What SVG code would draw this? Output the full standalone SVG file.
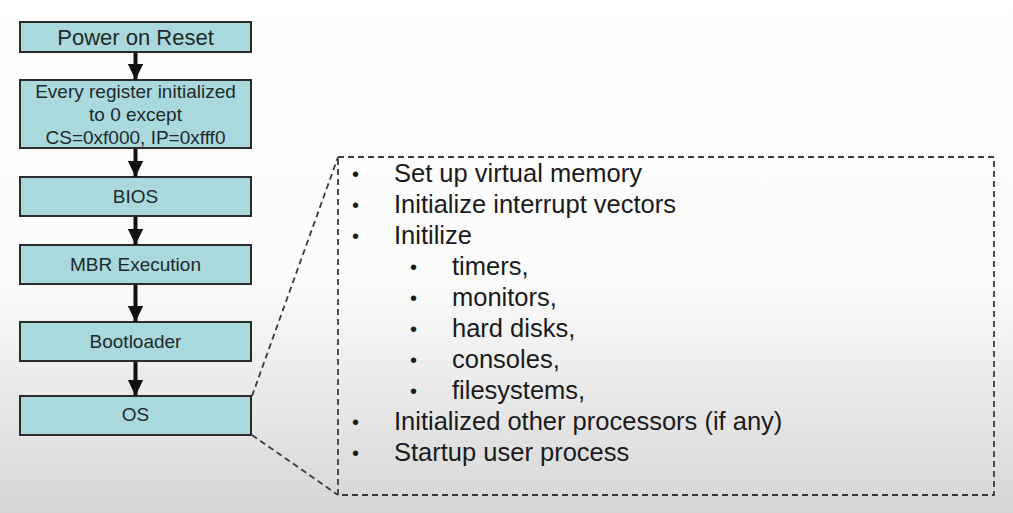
<svg xmlns="http://www.w3.org/2000/svg" width="1013" height="513" viewBox="0 0 1013 513">
<defs>
<linearGradient id="bg" x1="0" y1="0" x2="0" y2="1">
<stop offset="0" stop-color="#ffffff"/>
<stop offset="0.55" stop-color="#fbfbfb"/>
<stop offset="1" stop-color="#d6d6d6"/>
</linearGradient>
<marker id="ah" markerWidth="4" markerHeight="3.8" refX="4" refY="1.9" orient="auto" markerUnits="strokeWidth">
<path d="M0,0 L4,1.9 L0,3.8 Z" fill="#111"/>
</marker>
</defs>
<style>
.box{fill:#a9d9dc;stroke:#2b2b2b;stroke-width:2}
.bt{font-family:"Liberation Sans",Arial,sans-serif;fill:#1e2a2a;text-anchor:middle}
.arr{stroke:#111;stroke-width:4;fill:none}
.dash{stroke:#3a3a3a;stroke-width:1.8;fill:none;stroke-dasharray:6,4}
.lt{font-family:"Liberation Sans",Arial,sans-serif;font-size:25.5px;fill:#1a1a1a}
.bl{font-family:"Liberation Sans",Arial,sans-serif;font-size:20px;fill:#1a1a1a}
</style>
<rect width="1013" height="513" fill="url(#bg)"/>
<g id="n-power"><rect class="box" x="20" y="22" width="231" height="30"/><text class="bt" x="135.5" y="45" font-size="22">Power on Reset</text></g>
<g id="n-register"><rect class="box" x="20" y="80" width="231" height="68"/>
<text class="bt" x="135.5" y="98" font-size="19">Every register initialized</text>
<text class="bt" x="135.5" y="121" font-size="19">to 0 except</text>
<text class="bt" x="135.5" y="144" font-size="19">CS=0xf000, IP=0xfff0</text></g>
<g id="n-bios"><rect class="box" x="20" y="177" width="231" height="39"/><text class="bt" x="135.5" y="203" font-size="19">BIOS</text></g>
<g id="n-mbr"><rect class="box" x="20" y="245" width="231" height="39"/><text class="bt" x="135.5" y="271" font-size="19">MBR Execution</text></g>
<g id="n-boot"><rect class="box" x="20" y="322" width="231" height="39"/><text class="bt" x="135.5" y="348" font-size="19">Bootloader</text></g>
<g id="n-os"><rect class="box" x="20" y="396" width="231" height="39"/><text class="bt" x="135.5" y="421" font-size="19">OS</text></g>
<g id="connectors">
<line class="arr" x1="135.5" y1="53" x2="135.5" y2="80" marker-end="url(#ah)"/>
<line class="arr" x1="135.5" y1="149" x2="135.5" y2="177" marker-end="url(#ah)"/>
<line class="arr" x1="135.5" y1="217" x2="135.5" y2="245" marker-end="url(#ah)"/>
<line class="arr" x1="135.5" y1="285" x2="135.5" y2="322" marker-end="url(#ah)"/>
<line class="arr" x1="135.5" y1="362" x2="135.5" y2="396" marker-end="url(#ah)"/>
<line class="dash" x1="252" y1="396" x2="338" y2="157"/>
<line class="dash" x1="252" y1="435" x2="338" y2="495"/>
</g>
<g id="n-details">
<rect class="dash" x="338" y="157" width="656" height="338"/>
<g class="bl">
<text x="352" y="181">•</text>
<text x="352" y="212">•</text>
<text x="352" y="243">•</text>
<text x="410" y="274">•</text>
<text x="410" y="305">•</text>
<text x="410" y="336">•</text>
<text x="410" y="367">•</text>
<text x="410" y="398">•</text>
<text x="352" y="429">•</text>
<text x="352" y="460">•</text>
</g>
<g class="lt">
<text x="394" y="182">Set up virtual memory</text>
<text x="394" y="213">Initialize interrupt vectors</text>
<text x="394" y="244">Initilize</text>
<text x="452" y="275">timers,</text>
<text x="452" y="306">monitors,</text>
<text x="452" y="337">hard disks,</text>
<text x="452" y="368">consoles,</text>
<text x="452" y="399">filesystems,</text>
<text x="394" y="430">Initialized other processors (if any)</text>
<text x="394" y="461">Startup user process</text>
</g>
</g>
</svg>
